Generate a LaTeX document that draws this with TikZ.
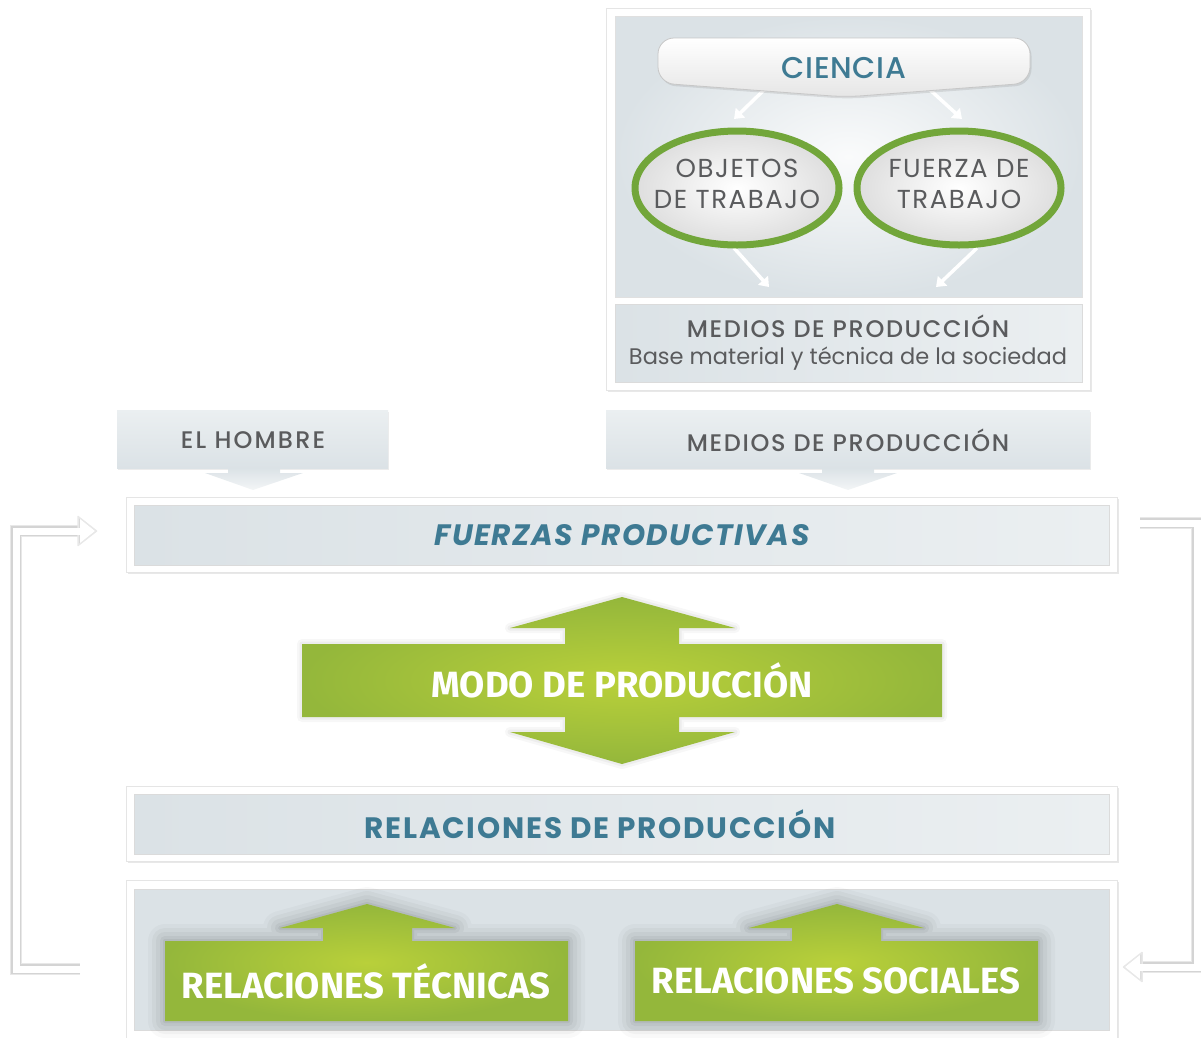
\documentclass[tikz,border=0pt]{standalone}
\usepackage{fontspec}
\setmainfont{Poppins}
\newfontfamily\pmed{Poppins}[UprightFont={* Medium}]
\newfontfamily\wfont{Fira Sans}
\usetikzlibrary{shapes.geometric,shadows,arrows.meta}
\definecolor{tealtxt}{HTML}{3E7A93}
\definecolor{graytxt}{HTML}{5A5B5D}
\definecolor{gA}{HTML}{B9D03A}
\definecolor{gB}{HTML}{94B73B}
\definecolor{ring}{HTML}{72A63A}
\definecolor{pL}{HTML}{DBE2E6}
\definecolor{pR}{HTML}{EBEFF1}
\begin{document}
\begin{tikzpicture}[x=1pt,y=-1pt,
  frame/.style={fill=white, draw=black!10, line width=0.6pt, inner sep=0pt,
    drop shadow={opacity=0.18, shadow xshift=1.5pt, shadow yshift=-1.5pt}},
  panel/.style={left color=pL, right color=pR, draw=black!14, line width=0.6pt, inner sep=0pt},
  labelbox/.style={top color=pR, bottom color=pL, inner sep=0pt,
    drop shadow={opacity=0.15, shadow xshift=1pt, shadow yshift=-1.5pt}},
  banner/.style={top color=white, bottom color=black!10, draw=black!22, line width=0.8pt, rounded corners=16pt,
    drop shadow={opacity=0.2, shadow xshift=1.5pt, shadow yshift=-2pt}},
  ell/.style={ellipse, draw=ring, line width=7pt, minimum width=204pt, minimum height=114pt, inner sep=0pt,
    inner color=white, outer color=black!13,
    drop shadow={opacity=0.2, shadow xshift=1.5pt, shadow yshift=-2pt}},
  whitearr/.style={draw=white, line width=3.5pt, -{Triangle[width=13pt,length=9pt]}},
  grayarr/.style={top color=pL, bottom color=pR!60!white},
  greenshape/.style={inner color=gA, outer color=gB,
    preaction={draw=black, opacity=0.025, line width=34pt, line join=round},
    preaction={draw=black, opacity=0.03, line width=26pt, line join=round},
    preaction={draw=black, opacity=0.035, line width=18pt, line join=round},
    preaction={draw=black, opacity=0.045, line width=10pt, line join=round},
    preaction={draw=black, opacity=0.05, line width=4pt, line join=round}},
  modoshape/.style={inner color=gA, outer color=gB,
    preaction={draw=black, opacity=0.03, line width=10pt, line join=round},
    preaction={draw=black, opacity=0.04, line width=5pt, line join=round}},
  gtxt/.style={text=graytxt},
  ttxt/.style={text=tealtxt, font=\fontsize{29.5}{32}\selectfont\bfseries\addfontfeatures{LetterSpace=6}},
  wtxt/.style={text=white, font=\wfont\fontsize{36.5}{40}\selectfont\bfseries},
  halo1/.style={draw=black!9, line width=12pt},
  halo2/.style={draw=black!17, line width=9.5pt},
  core/.style={draw=white, line width=7pt},
  halohead/.style={fill=black!15, draw=black!9, line width=1.5pt, line join=round},
  corehead/.style={fill=white}
]
\useasboundingbox (0,0) rectangle (1201,1037);

% ---------- feedback connectors ----------
\coordinate (l1) at (80,969);
\coordinate (l2) at (16,969);
\coordinate (l3) at (16,531);
\coordinate (l4) at (80,531);
\coordinate (lt) at (95,531);
\coordinate (r1) at (1140,523);
\coordinate (r2) at (1197,523);
\coordinate (r3) at (1197,967);
\coordinate (r4) at (1140,967);
\coordinate (rt) at (1125,967);
\draw[halo1] (l1) -- (l2) -- (l3) -- (l4);
\draw[halo2] (l1) -- (l2) -- (l3) -- (l4);
\draw[halo1] (r1) -- (r2) -- (r3) -- (r4);
\draw[halo2] (r1) -- (r2) -- (r3) -- (r4);
\path[halohead] ([xshift=1.5pt]lt) -- ([xshift=-2pt,yshift=14.5pt]l4) -- ([xshift=-2pt,yshift=-14.5pt]l4) -- cycle;
\path[halohead] ([xshift=-1.5pt]rt) -- ([xshift=2pt,yshift=14.5pt]r4) -- ([xshift=2pt,yshift=-14.5pt]r4) -- cycle;
\draw[core] (l1) -- (l2) -- (l3) -- ([xshift=1pt]l4);
\draw[core] (r1) -- (r2) -- (r3) -- ([xshift=-1pt]r4);
\path[corehead] (lt) -- ([yshift=12pt]l4) -- ([yshift=-12pt]l4) -- cycle;
\path[corehead] (rt) -- ([yshift=12pt]r4) -- ([yshift=-12pt]r4) -- cycle;

% ---------- top box ----------
\node[frame, minimum width=484pt, minimum height=382pt] (topframe) at (848,199) {};
\node[inner sep=0pt, minimum width=467pt, minimum height=281pt, inner color=white!75!pR, outer color=pL,
      draw=black!12, line width=0.5pt] (toppanel) at (848.5,156.5) {};
\node[panel, minimum width=467pt, minimum height=78pt] (lowpanel) at (848.5,343) {};

\coordinate (c1) at (766,88);
\coordinate (o1) at (734,119);
\coordinate (c2) at (928,88);
\coordinate (f1) at (962,119);
\coordinate (o2) at (734,248);
\coordinate (m1) at (769,287);
\coordinate (f2) at (977,248);
\coordinate (m2) at (936,287);
\draw[whitearr] (c1) -- (o1);
\draw[whitearr] (c2) -- (f1);
\draw[whitearr] (o2) -- (m1);
\draw[whitearr] (f2) -- (m2);

\path[banner] (658,38) -- (1030,38) -- (1030,83) -- (846,97) -- (658,83) -- cycle;
\node[text=tealtxt, font=\pmed\fontsize{30}{34}\selectfont\addfontfeatures{LetterSpace=2}] (ciencia) at (844,68) {CIENCIA};

\node[ell] (obj) at (737,188) {};
\node[ell] (fza) at (959,188) {};
\node[gtxt, align=center, font=\fontsize{26}{31.5}\selectfont\addfontfeatures{LetterSpace=6}] (objt) at (737,184) {OBJETOS\\DE TRABAJO};
\node[gtxt, align=center, font=\fontsize{26}{31.5}\selectfont\addfontfeatures{LetterSpace=6}] (fzat) at (959,184) {FUERZA DE\\TRABAJO};

\node[gtxt, font=\pmed\fontsize{24}{27}\selectfont\addfontfeatures{LetterSpace=7}] (medios1) at (848,326) {MEDIOS DE PRODUCCIÓN};
\node[gtxt, font=\fontsize{22.5}{25}\selectfont] (base) at (848,358.5) {Base material y técnica de la sociedad};

% ---------- input boxes ----------
\node[labelbox, minimum width=271pt, minimum height=58pt] (hombre) at (252.5,439) {};
\node[gtxt, font=\pmed\fontsize{24}{27}\selectfont\addfontfeatures{LetterSpace=9}] (hombret) at (253,440.5) {EL HOMBRE};
\node[labelbox, minimum width=484pt, minimum height=58pt] (medios2) at (848,439) {};
\node[gtxt, font=\pmed\fontsize{24}{27}\selectfont\addfontfeatures{LetterSpace=7}] (medios2t) at (848,440.5) {MEDIOS DE PRODUCCIÓN};

\path[grayarr] (228,468) -- (228,473) -- (205,473) -- (253,490) -- (303,473) -- (280,473) -- (280,468) -- cycle;
\path[grayarr] (822,468) -- (822,473) -- (799,473) -- (848,490) -- (897,473) -- (874,473) -- (874,468) -- cycle;

% ---------- fuerzas productivas ----------
\node[frame, minimum width=991pt, minimum height=75pt] (fuerzasf) at (621.5,534.5) {};
\node[panel, minimum width=975pt, minimum height=60pt] (fuerzas) at (621.5,535) {};
\node[text=tealtxt, font=\fontsize{29.5}{32}\selectfont\bfseries\itshape\addfontfeatures{LetterSpace=5}] (fuerzast) at (622,535) {FUERZAS PRODUCTIVAS};

% ---------- modo de produccion ----------
\path[modoshape] (302,644) -- (565,644) -- (565,628) -- (510,628) -- (622,597) -- (735,628) -- (679,628) -- (679,644)
  -- (942,644) -- (942,717) -- (679,717) -- (679,732) -- (735,732) -- (622,764) -- (510,732) -- (565,732) -- (565,717)
  -- (302,717) -- cycle;
\node[wtxt] (modo) at (622,680) {MODO DE PRODUCCIÓN};

% ---------- relaciones de produccion ----------
\node[frame, minimum width=991pt, minimum height=75pt] (relf) at (621.5,823.5) {};
\node[panel, minimum width=975pt, minimum height=60pt] (rel) at (621.5,824) {};
\node[ttxt] (relt) at (600,824) {RELACIONES DE PRODUCCIÓN};

% ---------- bottom box ----------
\node[frame, minimum width=991pt, minimum height=170pt] (botf) at (621.5,965) {};
\node[inner sep=0pt, minimum width=975pt, minimum height=141pt, left color=pL, middle color=white!60!pR, right color=pL,
      draw=black!14, line width=0.6pt] (bot) at (621.5,959.5) {};

\path[greenshape] (165,941) -- (323,941) -- (323,928) -- (280,928) -- (367,904) -- (455,928) -- (412,928) -- (412,941)
  -- (568,941) -- (568,1021) -- (165,1021) -- cycle;
\node[wtxt] (tec) at (366,981) {RELACIONES TÉCNICAS};

\path[greenshape] (635,941) -- (792,941) -- (792,928) -- (749,928) -- (837,904) -- (924,928) -- (881,928) -- (881,941)
  -- (1038,941) -- (1038,1021) -- (635,1021) -- cycle;
\node[wtxt] (soc) at (836,981) {RELACIONES SOCIALES};
\end{tikzpicture}
\end{document}
